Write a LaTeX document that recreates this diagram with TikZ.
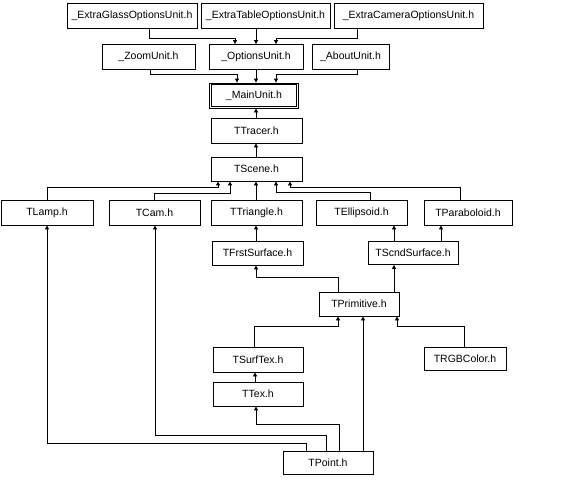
\documentclass[tikz,border=0pt]{standalone}
\usepackage{fontspec}
\setmainfont{Liberation Sans}
\usepackage{tikz}
\usetikzlibrary{arrows.meta}
\tikzset{
  hbox/.style={draw=black,line width=0.8pt,rectangle,inner sep=0pt,minimum height=25pt,font=\fontsize{10.5}{12}\selectfont}
}

\begin{document}
\begin{tikzpicture}[line cap=butt,line join=miter,>={Triangle[length=4pt,width=4pt]},x=1pt,y=-1pt]
    \useasboundingbox (0,0) rectangle (561,482);
    % header files
    \node[hbox,minimum width=130pt] (glass) at (132,16) {\_ExtraGlassOptionsUnit.h};
    \node[hbox,minimum width=129pt] (table) at (265.5,16) {\_ExtraTableOptionsUnit.h};
    \node[hbox,minimum width=149pt] (camera) at (408.5,16) {\_ExtraCameraOptionsUnit.h};
    \node[hbox,minimum width=93pt] (zoom) at (148.5,57) {\_ZoomUnit.h};
    \node[hbox,minimum width=94pt] (options) at (256,57) {\_OptionsUnit.h};
    \node[hbox,minimum width=77pt] (about) at (350.5,57) {\_AboutUnit.h};
    \node[hbox,minimum width=89pt] (main) at (254,95.5) {\_MainUnit.h};
    \draw[line width=0.8pt] ([shift={(2.2pt,-2.2pt)}]main.north west) rectangle ([shift={(-2.2pt,2.2pt)}]main.south east);
    \node[hbox,minimum width=91pt] (tracer) at (256.5,130.5) {TTracer.h};
    \node[hbox,minimum width=91pt,minimum height=24pt] (scene) at (256.5,169) {TScene.h};
    \node[hbox,minimum width=92pt] (lamp) at (47,212.5) {TLamp.h};
    \node[hbox,minimum width=91pt] (cam) at (154.5,212.5) {TCam.h};
    \node[hbox,minimum width=91pt] (triangle) at (256.5,212.5) {TTriangle.h};
    \node[hbox,minimum width=91pt] (ellipsoid) at (361.5,212.5) {TEllipsoid.h};
    \node[hbox,minimum width=88pt] (paraboloid) at (468,212.5) {TParaboloid.h};
    \node[hbox,minimum width=91pt,minimum height=24pt] (frst) at (257.5,253) {TFrstSurface.h};
    \node[hbox,minimum width=90pt,minimum height=23pt] (scnd) at (413,253) {TScndSurface.h};
    \node[hbox,minimum width=80pt,minimum height=24pt] (prim) at (359,304) {TPrimitive.h};
    \node[hbox,minimum width=90pt] (surftex) at (258,359.5) {TSurfTex.h};
    \node[hbox,minimum width=82pt,minimum height=23pt] (rgb) at (465,358.5) {TRGBColor.h};
    \node[hbox,minimum width=90pt,minimum height=24pt] (tex) at (258,394) {TTex.h};
    \node[hbox,minimum width=90pt,minimum height=23pt] (point) at (328,462.5) {TPoint.h};
    % include links
    \draw[->,line width=0.8pt] (149,0 |- glass.south) |- (235,38) -- (235,0 |- options.north);
    \draw[->,line width=0.8pt] (256,0 |- table.south) -- (256,0 |- options.north);
    \draw[->,line width=0.8pt] (357,0 |- camera.south) |- (276,38) -- (276,0 |- options.north);
    \draw[->,line width=0.8pt] (150,0 |- zoom.south) |- (237,74) -- (237,0 |- main.north);
    \draw[->,line width=0.8pt] (256,0 |- options.south) -- (256,0 |- main.north);
    \draw[->,line width=0.8pt] (357,0 |- about.south) |- (276,74) -- (276,0 |- main.north);
    \draw[->,line width=0.8pt] (256,0 |- tracer.north) -- (256,0 |- main.south);
    \draw[->,line width=0.8pt] (256,0 |- scene.north) -- (256,0 |- tracer.south);
    \draw[->,line width=0.8pt] (lamp.north) |- (218,187) -- (218,0 |- scene.south);
    \draw[->,line width=0.8pt] (cam.north) |- (230,193) -- (230,0 |- scene.south);
    \draw[->,line width=0.8pt] (256,0 |- triangle.north) -- (256,0 |- scene.south);
    \draw[->,line width=0.8pt] (370,0 |- ellipsoid.north) |- (276,192) -- (276,0 |- scene.south);
    \draw[->,line width=0.8pt] (460,0 |- paraboloid.north) |- (290,187) -- (290,0 |- scene.south);
    \draw[->,line width=0.8pt] (256,0 |- frst.north) -- (256,0 |- triangle.south);
    \draw[->,line width=0.8pt] (394,0 |- scnd.north) -- (394,0 |- ellipsoid.south);
    \draw[->,line width=0.8pt] (441,0 |- scnd.north) -- (441,0 |- paraboloid.south);
    \draw[->,line width=0.8pt] (338,0 |- prim.north) |- (256,277) -- (256,0 |- frst.south);
    \draw[->,line width=0.8pt] (394,0 |- prim.north) -- (394,0 |- scnd.south);
    \draw[->,line width=0.8pt] (254,0 |- surftex.north) |- (338,326) -- (338,0 |- prim.south);
    \draw[->,line width=0.8pt] (464,0 |- rgb.north) |- (397,326) -- (397,0 |- prim.south);
    \draw[->,line width=0.8pt] (255,0 |- tex.north) -- (255,0 |- surftex.south);
    \draw[->,line width=0.8pt] (363,0 |- point.north) -- (363,0 |- prim.south);
    \draw[->,line width=0.8pt] (339,0 |- point.north) |- (256,424) -- (256,0 |- tex.south);
    \draw[->,line width=0.8pt] (326,0 |- point.north) |- (155,435) -- (155,0 |- cam.south);
    \draw[->,line width=0.8pt] (306,0 |- point.north) |- (47,443) -- (lamp.south);
\end{tikzpicture}
\end{document}
